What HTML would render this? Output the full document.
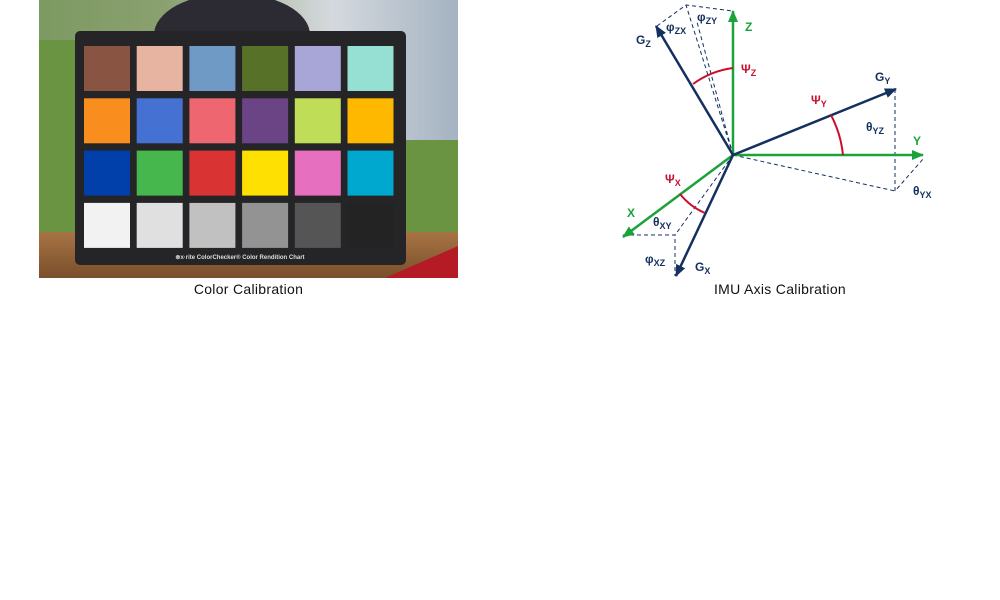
<!DOCTYPE html>
<html><head><meta charset="utf-8"><style>
body{margin:0;width:1000px;height:600px;background:#fff;overflow:hidden;font-family:"Liberation Sans",sans-serif;position:relative}
.cap{position:absolute;font-size:14px;color:#111;text-align:center;letter-spacing:0.3px}
</style></head><body>
<svg width="1000" height="600" style="position:absolute;left:0;top:0">
<defs>
<linearGradient id="bg" x1="0" y1="0" x2="1" y2="0">
<stop offset="0" stop-color="#7d9a62"/><stop offset="0.3" stop-color="#8aa070"/><stop offset="0.7" stop-color="#d5d9de"/><stop offset="1" stop-color="#a4b3c2"/></linearGradient>
<linearGradient id="wood" x1="0" y1="0" x2="0" y2="1"><stop offset="0" stop-color="#a77444"/><stop offset="1" stop-color="#7a4f2c"/></linearGradient>
</defs>
<rect x="39" y="0" width="419" height="278" fill="url(#bg)"/>
<rect x="39" y="40" width="40" height="195" fill="#6a9442"/>
<rect x="405" y="140" width="53" height="100" fill="#6a9442"/>
<rect x="39" y="232" width="419" height="46" fill="url(#wood)"/>
<ellipse cx="232" cy="35" rx="78" ry="42" fill="#2c2a32"/>
<path d="M385 278 L458 246 L458 278Z" fill="#b51b25"/>
<rect x="75" y="31" width="331" height="234" rx="5" fill="#252528"/>
<g id="patches"></g>
<text x="240" y="259" font-size="6" fill="#ddd" text-anchor="middle" font-weight="bold">⊗x·rite ColorChecker® Color Rendition Chart</text>
</svg>
<div class="cap" style="left:39px;width:419px;top:281px">Color Calibration</div>
<svg width="1000" height="300" style="position:absolute;left:0;top:0">
<defs>
<marker id="ag" markerWidth="12" markerHeight="10" refX="11" refY="5" orient="auto" markerUnits="userSpaceOnUse" viewBox="0 0 12 10"><path d="M0 0L12 5L0 10Z" fill="#1aa33a"/></marker>
<marker id="ab" markerWidth="12" markerHeight="10" refX="11" refY="5" orient="auto" markerUnits="userSpaceOnUse" viewBox="0 0 12 10"><path d="M0 0L12 5L0 10Z" fill="#13305e"/></marker>
</defs>
<g stroke="#13305e" stroke-width="1" stroke-dasharray="4,3" fill="none">
<path d="M657 26 L686 5 L733 11"/><path d="M733 155 L686 5"/><path d="M733 155 L697 22"/>
<path d="M895 89 L895 191 L924 158"/><path d="M733 155 L895 191"/>
<path d="M623 235 L675 235 L675 276"/><path d="M733 155 L675 235"/>
</g>
<g fill="none" stroke-width="2.5">
<line x1="733" y1="155" x2="733" y2="11" stroke="#1aa33a" marker-end="url(#ag)"/>
<line x1="733" y1="155" x2="923" y2="155" stroke="#1aa33a" marker-end="url(#ag)"/>
<line x1="733" y1="155" x2="623" y2="237" stroke="#1aa33a" marker-end="url(#ag)"/>
<line x1="733" y1="155" x2="656" y2="26" stroke="#13305e" marker-end="url(#ab)"/>
<line x1="733" y1="155" x2="896" y2="89" stroke="#13305e" marker-end="url(#ab)"/>
<line x1="733" y1="155" x2="676" y2="276" stroke="#13305e" marker-end="url(#ab)"/>
</g>
<g fill="none" stroke="#c8102e" stroke-width="2">
<path d="M733 68 A87 87 0 0 0 693 84"/>
<path d="M843 155 A110 110 0 0 0 831 115"/>
<path d="M680 194 A64 64 0 0 0 705 213"/>
</g>
<g font-weight="bold" font-size="12" fill="#13305e">
<text x="636" y="44">G<tspan font-size="9" dy="3">Z</tspan></text>
<text x="875" y="81">G<tspan font-size="9" dy="3">Y</tspan></text>
<text x="695" y="271">G<tspan font-size="9" dy="3">X</tspan></text>
<text x="666" y="31">φ<tspan font-size="9" dy="3">ZX</tspan></text>
<text x="697" y="21">φ<tspan font-size="9" dy="3">ZY</tspan></text>
<text x="866" y="131">θ<tspan font-size="9" dy="3">YZ</tspan></text>
<text x="913" y="195">θ<tspan font-size="9" dy="3">YX</tspan></text>
<text x="653" y="226">θ<tspan font-size="9" dy="3">XY</tspan></text>
<text x="645" y="263">φ<tspan font-size="9" dy="3">XZ</tspan></text>
</g>
<g font-weight="bold" font-size="12" fill="#1aa33a">
<text x="745" y="31">Z</text><text x="913" y="145">Y</text><text x="627" y="217">X</text>
</g>
<g font-weight="bold" font-size="12" fill="#c8102e">
<text x="741" y="73">Ψ<tspan font-size="9" dy="3">Z</tspan></text>
<text x="811" y="104">Ψ<tspan font-size="9" dy="3">Y</tspan></text>
<text x="665" y="183">Ψ<tspan font-size="9" dy="3">X</tspan></text>
</g>
</svg>
<div class="cap" style="left:640px;width:280px;top:281px">IMU Axis Calibration</div>
<script>
const colors=["#8a5443","#e6b4a1","#6f9ac5","#577228","#a8a6d6","#96dfd3",
"#f98e1e","#4571d3","#ee6670","#6a4485","#c0dd58","#feb800",
"#0140ab","#45b74d","#d93433","#fee002","#e66fbf","#00a8cf",
"#f2f2f2","#e0e0e0","#c1c1c1","#949393","#555556","#232323"];
const g=document.getElementById('patches');
colors.forEach((c,i)=>{const r=document.createElementNS('http://www.w3.org/2000/svg','rect');


r.setAttribute('x',84+(i%6)*52.7);r.setAttribute('y',46+Math.floor(i/6)*52.3);
r.setAttribute('width',46);r.setAttribute('height',45);r.setAttribute('fill',c);g.appendChild(r);});
</script>
</body></html>
